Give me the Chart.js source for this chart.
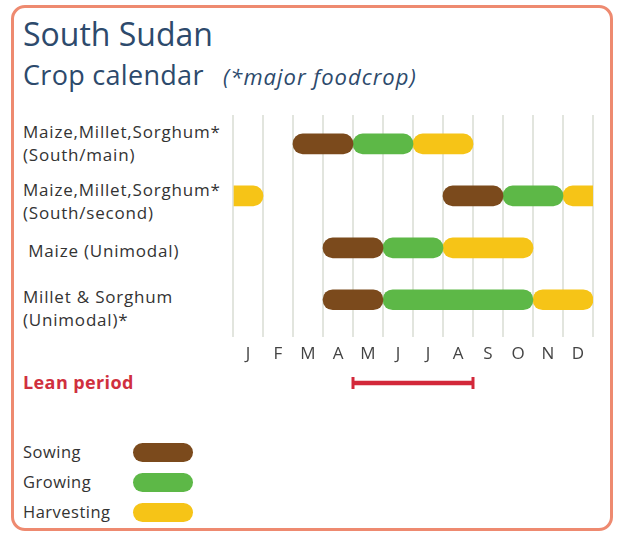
<!DOCTYPE html>
<html>
<head>
<meta charset="utf-8">
<script src="https://cdn.jsdelivr.net/npm/chart.js@4.4.1/dist/chart.umd.min.js"></script>
<style>
  body { margin: 0; background: #fff; font-family: "Open Sans", sans-serif; }
  #page { position: relative; width: 620px; height: 537px; overflow: hidden; }
  #frame { position: absolute; left: 11px; top: 5px; width: 596px; height: 520px;
           border: 3.5px solid #ee8a70; border-radius: 14px; }
  .title { position: absolute; left: 23px; top: 12px; font-size: 32px; color: #2d4a6c; white-space: nowrap; }
  .subtitle { position: absolute; left: 23px; top: 56px; font-size: 27px; letter-spacing: 0.3px; color: #2d4a6c; white-space: nowrap; }
  .subtitle i { font-size: 22px; letter-spacing: 1px; margin-left: 12px; }
  .row-label { position: absolute; left: 23px; font-size: 17px; letter-spacing: 0.8px; line-height: 23px; color: #333; white-space: nowrap; }
  .lean { position: absolute; left: 23px; top: 370px; font-size: 18px; letter-spacing: 0.4px; font-weight: bold; color: #d0303e; }
  .legend { position: absolute; left: 23px; font-size: 16.5px; letter-spacing: 0.5px; color: #333; }
  .pill { position: absolute; left: 133px; width: 60px; height: 19px; border-radius: 10px; }
  #mainWrap { position: absolute; left: 0; top: 0; width: 620px; height: 377px; }
  #leanWrap { position: absolute; left: 0; top: 368px; width: 620px; height: 30px; }
</style>
</head>
<body>
<div id="page">
  <div id="frame"></div>
  <div class="title">South Sudan</div>
  <div class="subtitle">Crop calendar <i>(*major foodcrop)</i></div>
  <div id="labels"></div>
  <div class="lean">Lean period</div>
  <div id="legend"></div>
  <div id="mainWrap"><canvas id="cropChart"></canvas></div>
  <div id="leanWrap"><canvas id="leanChart"></canvas></div>
</div>
<script>
// months on the x axis
const months = ['J', 'F', 'M', 'A', 'M', 'J', 'J', 'A', 'S', 'O', 'N', 'D'];

// crop rows (label lines)
const crops = [
    ['Maize,Millet,Sorghum*', '(South/main)'],
    ['Maize,Millet,Sorghum*', '(South/second)'],
    ['&nbsp;Maize (Unimodal)'],
    ['Millet & Sorghum', '(Unimodal)*']
];

// [start month, end month], 0 = start of January; > 12 wraps into the next year
const sowing = [[2, 4], [7, 9], [3, 5], [3, 5]];
const growing = [[4, 6], [9, 11], [5, 7], [5, 10]];
const harvesting = [[6, 8], [11, 13], [7, 10], [10, 12]];
const leanPeriod = [4, 8];

const stages = ['Sowing', 'Growing', 'Harvesting'];
const stageColors = ['#7b4a1c', '#5db847', '#f6c417'];

// row label positions (top of first line)
const labelTops = [120, 178, 239, 285];

document.getElementById('labels').innerHTML = crops.map((c, i) =>
    `<div class="row-label" style="top:${labelTops[i]}px">${c.join('<br>')}</div>`).join('');

document.getElementById('legend').innerHTML = stages.map((s, i) =>
    `<div class="legend" style="top:${440 + i * 30}px">${s}</div>` +
    `<div class="pill" style="top:${443 + i * 30}px;background:${stageColors[i]}"></div>`).join('');

// split ranges that wrap over December into two pieces
const toBars = (ranges) => {
    const out = [];
    ranges.forEach((r, i) => {
        if (r[1] > 12) {
            out.push({ x: [r[0], 12], y: i, cut: 'end' });
            out.push({ x: [0, r[1] - 12], y: i, cut: 'start' });
        } else {
            out.push({ x: r, y: i });
        }
    });
    return out;
};

const radius = (ctx) => {
    const d = ctx.raw;
    if (d && d.cut === 'end') return { topLeft: 10, bottomLeft: 10, topRight: 0, bottomRight: 0 };
    if (d && d.cut === 'start') return { topLeft: 0, bottomLeft: 0, topRight: 10, bottomRight: 10 };
    return 10;
};

new Chart(document.getElementById('cropChart'), {
    type: 'bar',
    data: {
        datasets: [sowing, growing, harvesting].map((ranges, i) => ({
            label: stages[i],
            data: toBars(ranges),
            backgroundColor: stageColors[i],
            borderSkipped: false,
            borderRadius: radius,
            barThickness: 20,
            grouped: false
        }))
    },
    options: {
        indexAxis: 'y',
        responsive: true,
        maintainAspectRatio: false,
        animation: false,
        layout: { padding: { left: 233, right: 27, top: 115, bottom: 0 } },
        plugins: { legend: { display: false }, tooltip: { enabled: false } },
        scales: {
            x: {
                type: 'linear',
                min: 0,
                max: 12,
                afterFit: (s) => { s.height = 40; },
                border: { display: false },
                grid: {
                    drawTicks: false,
                    lineWidth: 2,
                    color: (c) => Number.isInteger(c.tick.value) ? '#e2e5de' : 'transparent'
                },
                ticks: {
                    stepSize: 0.5,
                    autoSkip: false,
                    maxRotation: 0,
                    padding: 7,
                    color: '#444',
                    font: { family: 'Open Sans', size: 17 },
                    callback: (v) => Number.isInteger(v) ? '' : months[Math.floor(v)]
                }
            },
            y: {
                type: 'linear',
                reverse: true,
                min: -0.32,
                max: 3.48,
                display: false
            }
        }
    }
});

// end caps for the lean period bar
const capsPlugin = {
    id: 'caps',
    afterDatasetsDraw(chart) {
        const ctx = chart.ctx;
        chart.getDatasetMeta(0).data.forEach(el => {
            const { x, base, y } = el.getProps(['x', 'base', 'y'], true);
            ctx.save();
            ctx.strokeStyle = '#d3283a';
            ctx.lineWidth = 3;
            [base, x].forEach(px => {
                ctx.beginPath();
                ctx.moveTo(px, y - 6);
                ctx.lineTo(px, y + 6);
                ctx.stroke();
            });
            ctx.restore();
        });
    }
};

new Chart(document.getElementById('leanChart'), {
    type: 'bar',
    data: {
        labels: ['Lean period'],
        datasets: [{
            data: [leanPeriod],
            backgroundColor: '#d3283a',
            barThickness: 4,
            borderSkipped: false
        }]
    },
    options: {
        indexAxis: 'y',
        responsive: true,
        maintainAspectRatio: false,
        animation: false,
        layout: { padding: { left: 233, right: 27, top: 0, bottom: 0 } },
        plugins: { legend: { display: false }, tooltip: { enabled: false } },
        scales: {
            x: { type: 'linear', min: 0, max: 12, display: false },
            y: { display: false }
        }
    },
    plugins: [capsPlugin]
});
</script>
</body>
</html>
